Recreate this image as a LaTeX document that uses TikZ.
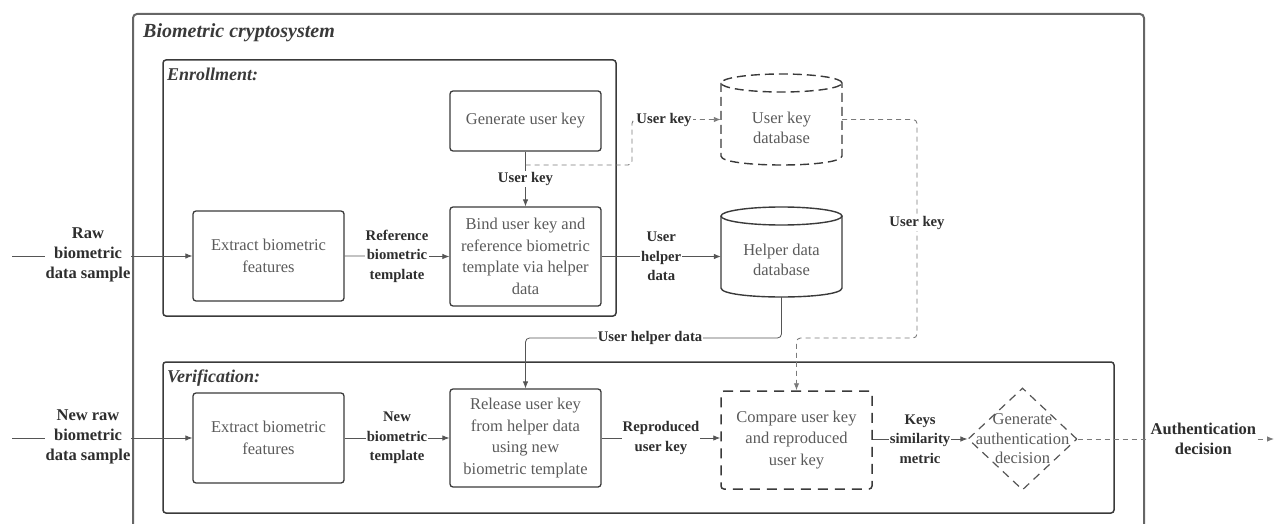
\documentclass[tikz,border=0pt]{standalone}
\usepackage{fontspec}
\setmainfont{Liberation Serif}
\usetikzlibrary{arrows.meta,shapes.geometric}
\definecolor{boxline}{HTML}{3A3A3A}
\definecolor{boxtext}{HTML}{5A5A5A}
\definecolor{lbltext}{HTML}{2E2E2E}
\definecolor{connc}{HTML}{555555}
\definecolor{dconnc}{HTML}{7A7A7A}
\definecolor{outerline}{HTML}{666666}
\begin{document}
\begin{tikzpicture}[x=1pt,y=-1pt,
  procbox/.style={draw=boxline, line width=1.3pt, rounded corners=3pt, text=boxtext, align=center,
    font=\fontsize{16.5}{21.5}\selectfont, minimum width=151pt, inner sep=2pt},
  dprocbox/.style={procbox, dash pattern=on 10pt off 7pt, line width=1.5pt},
  sectbox/.style={draw=boxline, line width=1.5pt, rounded corners=3pt},
  secttitle/.style={anchor=west, inner sep=0pt, text=boxline, font=\fontsize{18}{20}\selectfont\bfseries\itshape},
  lbl/.style={text=lbltext, font=\fontsize{14.7}{19.5}\selectfont\bfseries, align=center, fill=white, inner sep=1pt},
  iolbl/.style={text=lbltext, font=\fontsize{16.5}{20}\selectfont\bfseries, align=center, fill=white, inner sep=1pt},
  cyltext/.style={text=boxtext, align=center, font=\fontsize{16.5}{20}\selectfont},
  cylline/.style={draw=boxline, line width=1.4pt},
  cyldash/.style={cylline, dash pattern=on 9pt off 5pt},
  connline/.style={draw=connc, line width=0.8pt, -{Latex[length=7pt,width=5.5pt]}},
  plainline/.style={draw=connc, line width=0.8pt},
  dconn/.style={draw=dconnc, line width=0.9pt, dash pattern=on 5pt off 4pt, -{Latex[length=7pt,width=5.5pt]}},
]
\useasboundingbox (0,0) rectangle (1274,524);

% outer container (bottom edge lies below the picture)
\draw[draw=outerline, line width=2pt, rounded corners=4pt] (133,530) -- (133,14) -- (1144,14) -- (1144,530);
\node[secttitle, font=\fontsize{20}{22}\selectfont\bfseries\itshape] (ttl) at (143,33) {Biometric cryptosystem};

% sections
\node[sectbox, minimum width=453pt, minimum height=256pt] (enr) at (389.5,188) {};
\node[secttitle] (enrt) at (167,74) {Enrollment:};
\node[sectbox, minimum width=951pt, minimum height=151pt] (ver) at (638.5,437.5) {};
\node[secttitle] (vert) at (167,378) {Verification:};

% enrollment boxes
\node[procbox, minimum height=90pt] (ex1) at (268.5,256) {Extract biometric\\features};
\node[procbox, minimum height=60pt] (gen) at (525.5,121) {Generate user key};
\node[procbox, minimum height=99pt] (bind) at (525.5,256.5) {Bind user key and\\reference biometric\\template via helper\\data};

% databases
\node[minimum width=121pt, minimum height=91pt, inner sep=0pt] (ukdb) at (781.5,119.5) {};
\draw[cyldash] (781.5,83) ellipse [x radius=60.5pt, y radius=9pt];
\draw[cyldash] (721,83) -- (721,156) .. controls (721,168) and (842,168) .. (842,156) -- (842,83);
\node[cyltext] (ukdbt) at (781.5,128) {User key\\database};

\node[minimum width=121pt, minimum height=90pt, inner sep=0pt] (hdb) at (781.5,252) {};
\draw[cylline] (781.5,216) ellipse [x radius=60.5pt, y radius=9pt];
\draw[cylline] (721,216) -- (721,288) .. controls (721,300) and (842,300) .. (842,288) -- (842,216);
\node[cyltext] (hdbt) at (781.5,260) {Helper data\\database};

% verification boxes
\node[procbox, minimum height=90pt] (ex2) at (268.5,438) {Extract biometric\\features};
\node[procbox, minimum height=98pt] (rel) at (525.5,438) {Release user key\\from helper data\\using new\\biometric template};
\node[dprocbox, minimum height=98pt] (cmp) at (796.5,440) {Compare user key\\and reproduced\\user key};
\node[diamond, draw=connc, line width=1.2pt, dash pattern=on 8pt off 6pt, minimum width=109pt, minimum height=102pt, inner sep=0pt] (dec) at (1022.5,439) {};
\node[text=boxtext, align=center, font=\fontsize{16.5}{19.5}\selectfont] (dect) at (1022.5,439) {Generate\\authentication\\decision};

% coordinates for free ends and bends
\coordinate (rawin) at (12,256);
\coordinate (newin) at (12,438);
\coordinate (outend) at (1274,439);
\coordinate (ukbr) at (525.5,165);
\coordinate (ukx) at (632,165);
\coordinate (ukdown) at (917,338);
\coordinate (hdrow) at (650,338);

% enrollment connectors
\draw[connline] (rawin) -- (ex1.west);
\node[iolbl] (rawl) at (88,255) {Raw\\biometric\\data sample};
\draw[connline] (ex1.east) -- (bind.west) node[lbl, midway] (refl) {Reference\\biometric\\template};
\draw[connline] (gen.south) -- (bind.north) node[lbl, pos=0.5] (ukl1) {User key};
\draw[dconn, rounded corners=4pt] (ukbr) -- (ukx) |- (ukdb.west);
\node[lbl] (ukl2) at (664,120) {User key};
\draw[connline] (bind.east) -- (bind.east -| hdb.west) node[lbl, midway] (uhl) {User\\helper\\data};

% cross connectors
\draw[connline, rounded corners=4pt] (hdb.south) |- (hdrow) -| (rel.north);
\node[lbl] (uhl2) at (650,338) {User helper data};
\draw[dconn, rounded corners=4pt] (ukdb.east) -| (ukdown) -| (cmp.north);
\node[lbl] (ukl3) at (917,223) {User key};

% verification connectors
\draw[connline] (newin) -- (ex2.west);
\node[iolbl] (newl) at (88,437) {New raw\\biometric\\data sample};
\draw[connline] (ex2.east) -- (rel.west) node[lbl, midway] (nbl) {New\\biometric\\template};
\draw[connline] (rel.east) -- (rel.east -| cmp.west) node[lbl, midway] (rukl) {Reproduced\\user key};
\draw[connline] (cmp.east |- dec.west) -- (dec.west) node[lbl, midway] (ksl) {Keys\\similarity\\metric};
\draw[dconn] (dec.east) -- (outend) node[iolbl, pos=0.64] (adl) {Authentication\\decision};
\end{tikzpicture}
\end{document}
